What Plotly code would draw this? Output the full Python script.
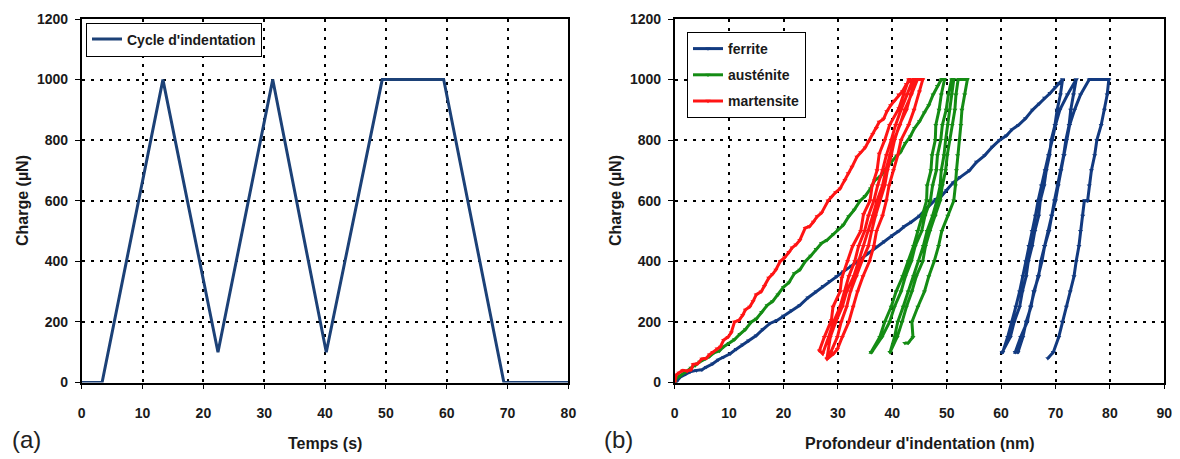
import plotly.graph_objects as go

# ---------------- (a) indentation cycle ----------------
temps_s = [0, 3.35, 13.35, 22.4, 31.4, 40.2, 49.4, 59.5, 69.4, 80]
charge_cycle = [0, 0, 1000, 100, 1000, 100, 1000, 1000, 0, 0]

# ---------------- (b) load-depth curves ----------------
# martensite: loading, unload1, reload2, unload2, reload3, hold, unload3
mart_x = [0, 0.3, 0.8, 1.5, 2.3, 3.0, 3.4, 4.2, 5.0, 5.8, 6.4, 7.0, 7.8, 8.4, 9.0, 9.8, 10.4, 11.0, 11.8, 12.5,
          13.0, 13.8, 14.4, 15.0, 15.9, 16.5, 17.3, 18.0, 18.6, 19.4, 20.2, 21.0, 21.6, 22.3, 23.0, 24.0, 24.8,
          25.5, 26.2, 27.0, 28.2, 28.8, 29.6, 30.4, 31.3, 31.9, 32.6, 33.5, 34.2, 35.0, 35.6, 36.4, 37.1, 37.6,
          38.4, 39.0, 39.7, 40.4, 41.2, 41.9, 42.6, 43.4,
          43.0, 42.1, 41.2, 39.5, 38.6, 37.6, 37.2, 36.3, 35.9, 34.7, 34.2, 32.7, 31.8, 30.7, 30.4, 29.1, 28.8, 27.5, 26.6,
          27.2, 28.3, 29.2, 30.4, 31.2, 32.0, 33.1, 33.8, 34.9, 35.6, 36.6, 37.3, 38.2, 38.9, 39.8, 40.6, 41.6, 42.7, 43.8,
          44.2, 43.4, 42.6, 41.3, 40.4, 39.8, 39.1, 38.6, 37.7, 36.9, 36.2, 35.6, 34.4, 33.4, 32.3, 31.6, 30.6, 29.9, 28.7,
          28.0, 28.6, 29.6, 30.8, 31.6, 32.9, 33.8, 34.7, 35.6, 36.4, 37.2, 38.2, 38.8, 39.6, 40.3, 41.4, 42.3, 43.5, 44.6,
          45.6, 45.0, 44.0, 43.0, 41.6, 41.0, 40.2, 39.4, 38.9, 38.2, 37.1, 36.6, 35.8, 34.6, 33.6, 32.8, 32.0, 30.8,
          29.9, 29.2, 28.0]
mart_y = [0, 25, 32, 40, 38, 42, 60, 62, 78, 80, 92, 100, 112, 118, 140, 150, 165, 200, 205, 222,
          240, 250, 268, 290, 300, 318, 345, 358, 372, 400, 412, 430, 445, 455, 470, 510, 515,
          530, 548, 560, 600, 612, 628, 640, 668, 690, 712, 745, 760, 775, 795, 820, 840, 860,
          870, 895, 915, 930, 950, 962, 985, 1000,
          1000, 950, 905, 850, 800, 755, 700, 650, 600, 555, 500, 450, 400, 345, 300, 250, 205, 150, 105,
          95, 150, 200, 250, 300, 350, 400, 450, 500, 550, 600, 650, 700, 750, 800, 850, 900, 950, 1000,
          1000, 950, 900, 850, 800, 750, 700, 650, 600, 550, 500, 450, 400, 350, 300, 250, 200, 150, 100,
          80, 150, 200, 250, 300, 350, 400, 450, 500, 550, 600, 650, 700, 750, 800, 850, 900, 950, 1000,
          1000, 960, 900, 850, 800, 750, 700, 650, 600, 550, 500, 450, 400, 350, 300, 250, 200, 150,
          110, 95, 77]

aust_x = [0, 0.3, 1.0, 2.0, 3.0, 3.8, 4.6, 5.6, 6.4, 7.2, 8.2, 9.0, 10.0, 11.0, 12.0, 13.0, 14.1, 15.0, 16.0,
          17.0, 18.0, 19.0, 20.0, 21.0, 22.0, 23.0, 24.0, 25.0, 26.0, 27.0, 28.0, 29.2, 30.0, 31.0, 32.0, 33.0,
          34.1, 35.0, 36.0, 36.8, 37.8, 38.8, 39.8, 40.8, 41.5, 42.4, 43.3, 44.1, 45.0, 45.9, 46.7, 47.5, 48.3, 49.0,
          49.6, 49.0, 48.6, 48.0, 47.9, 47.3, 47.1, 46.4, 46.3, 45.5, 44.6, 43.9, 42.9, 41.9, 40.7, 39.8, 38.6, 37.7, 36.1,
          36.2, 38.1, 39.5, 40.4, 41.6, 42.4, 43.5, 44.2, 45.4, 46.0, 47.0, 47.4, 48.1, 48.3, 48.9, 49.2, 49.9, 50.3, 50.9,
          51.3, 50.9, 50.5, 50.2, 49.8, 49.5, 49.0, 48.8, 48.2, 47.4, 46.4, 45.7, 44.8, 43.9, 42.9, 42.0, 41.0, 40.4, 39.6,
          39.6, 40.9, 41.8, 42.6, 43.6, 44.4, 45.6, 46.1, 46.9, 47.9, 48.8, 49.2, 49.8, 50.1, 50.6, 51.0, 51.5, 51.7, 52.1,
          53.8, 53.3, 52.8, 52.6, 52.3, 52.0, 51.8, 51.6, 51.3, 50.2, 49.1, 48.5, 47.7, 46.7, 45.9, 44.7, 43.6, 43.8,
          42.9, 42.3]
aust_y = [0, 13, 22, 35, 48, 56, 68, 78, 86, 98, 104, 118, 130, 142, 160, 175, 200, 210, 232,
          255, 268, 290, 315, 330, 360, 372, 400, 418, 440, 460, 470, 490, 505, 520, 548, 570,
          600, 615, 640, 668, 680, 705, 728, 748, 760, 790, 812, 840, 862, 891, 915, 950, 978, 1000,
          1000, 950, 900, 850, 800, 750, 700, 650, 600, 550, 500, 450, 400, 350, 300, 250, 200, 150, 100,
          100, 150, 200, 250, 300, 350, 400, 450, 500, 550, 600, 650, 700, 750, 800, 850, 900, 950, 1000,
          1000, 950, 900, 850, 800, 750, 700, 650, 600, 550, 500, 450, 400, 350, 300, 250, 200, 150, 100,
          100, 150, 200, 250, 300, 350, 400, 450, 500, 550, 600, 650, 700, 750, 800, 850, 900, 950, 1000,
          1000, 950, 900, 850, 800, 750, 700, 650, 600, 550, 500, 450, 400, 350, 300, 250, 200, 150,
          130, 130]

ferr_x = [0, 0.3, 1.0, 2.0, 2.8, 4.0, 5.0, 5.8, 7.0, 8.0, 9.0, 10.2, 11.3, 12.5, 13.6, 15.0, 16.2, 17.5, 18.8,
          20.0, 21.5, 23.0, 24.5, 26.0, 27.3, 28.5, 29.8, 31.0, 32.5, 34.0, 35.5, 37.0, 38.5, 40.0, 41.2, 42.2,
          43.5, 45.0, 46.5, 48.0, 49.0, 50.0, 51.2, 52.5, 54.2, 55.5, 57.0, 58.4, 59.7, 61.0, 62.0, 63.2, 64.5,
          65.8, 67.0, 68.0, 69.0, 70.0, 70.7, 71.3,
          71.3, 70.9, 70.3, 69.9, 69.2, 68.9, 68.3, 67.9, 67.2, 66.9, 66.2, 65.7, 65.0, 64.6, 63.9, 63.4, 62.4, 61.7, 60.2,
          60.3, 61.2, 62.0, 62.7, 63.4, 64.0, 64.5, 65.1, 65.7, 66.3, 66.8, 67.4, 68.1, 68.7, 69.4, 70.0, 70.8, 72.2, 73.8,
          73.8, 73.3, 72.8, 72.5, 71.9, 71.5, 70.9, 70.4, 69.8, 69.3, 68.7, 68.0, 67.3, 66.9, 66.0, 65.5, 64.6, 64.0, 63.1,
          62.6, 63.6, 64.8, 65.4, 66.1, 66.8, 67.5, 68.0, 68.8, 69.3, 70.0, 70.5, 71.0, 71.6, 72.0, 72.6, 73.5, 74.6, 76.2,
          79.8, 79.5, 79.0, 78.4, 77.6, 77.2, 76.6, 76.2, 75.9, 75.3, 75.0, 74.6, 74.3, 73.8, 73.4, 72.7, 72.0, 71.2,
          70.6, 69.6, 68.6]
ferr_y = [0, 2, 18, 28, 35, 40, 42, 51, 62, 75, 84, 95, 110, 125, 138, 155, 175, 195, 205,
          220, 238, 255, 280, 300, 318, 335, 350, 366, 385, 405, 428, 448, 465, 485, 500, 515,
          530, 550, 578, 605, 615, 635, 660, 678, 700, 728, 750, 778, 800, 815, 835, 850, 872,
          900, 920, 940, 955, 975, 988, 1000,
          1000, 950, 900, 850, 800, 750, 700, 650, 600, 550, 500, 450, 400, 350, 300, 250, 200, 150, 100,
          100, 150, 200, 250, 300, 350, 400, 450, 500, 550, 600, 650, 700, 750, 800, 850, 900, 950, 1000,
          1000, 950, 900, 850, 800, 750, 700, 650, 600, 550, 500, 450, 400, 350, 300, 250, 200, 150, 100,
          100, 150, 200, 250, 300, 350, 400, 450, 500, 550, 600, 650, 700, 750, 800, 850, 900, 950, 1000,
          1000, 950, 900, 850, 800, 750, 700, 650, 600, 600, 550, 500, 450, 400, 350, 300, 250, 200,
          150, 100, 80]

# the page body has an 8px margin; figure is sized/positioned to compensate
OFF = 8
W, H = 1180 - OFF, 459 - OFF
FONT = "Liberation Sans, Arial, sans-serif"
BLUE_A = "#1c4177"
BLUE = "#123a80"
GREEN = "#148c14"
RED = "#ff1414"

def px_x(p):
    return (p - OFF) / W

def px_y(p):
    return 1 - (p - OFF) / H

fig = go.Figure()
fig.add_trace(go.Scatter(x=temps_s, y=charge_cycle, mode="lines", name="Cycle d'indentation",
                         line=dict(color=BLUE_A, width=3), xaxis="x", yaxis="y", legend="legend",
                         cliponaxis=False))
for nm, xs, ys, col, grp in [("ferrite", ferr_x, ferr_y, BLUE, "f"),
                             ("austénite", aust_x, aust_y, GREEN, "a"),
                             ("martensite", mart_x, mart_y, RED, "m")]:
    fig.add_trace(go.Scatter(x=xs, y=ys, mode="lines+markers", name=nm,
                             line=dict(color=col, width=3),
                             marker=dict(color=col, size=4.5, symbol="triangle-down"),
                             xaxis="x2", yaxis="y2", legend="legend2", legendgroup=grp))

tickfont = dict(family=FONT, size=14, color="#1a1a1a", weight="bold")
grid = dict(showgrid=True, gridcolor="#000000", gridwidth=2, griddash="3px,6px", zeroline=False,
            showline=True, linecolor="#000000", linewidth=1.6, mirror=True, ticks="outside",
            ticklen=5, tickcolor="#000000", tickfont=tickfont, automargin=False)

ydom = [px_y(382.5), px_y(19)]
fig.update_layout(
    width=W, height=H, margin=dict(l=0, r=0, t=0, b=0, autoexpand=False),
    paper_bgcolor="white", plot_bgcolor="white",
    xaxis=dict(domain=[px_x(81.7), px_x(568.4)], range=[0, 80], dtick=10, anchor="y",
               ticklabelstandoff=12, **grid),
    yaxis=dict(domain=ydom, range=[0, 1200], dtick=200, anchor="x", ticklabelstandoff=4, **grid),
    xaxis2=dict(domain=[px_x(674.7), px_x(1164.3)], range=[0, 90], dtick=10, anchor="y2",
                ticklabelstandoff=12, **grid),
    yaxis2=dict(domain=ydom, range=[0, 1200], dtick=200, anchor="x2", ticklabelstandoff=4, **grid),
    legend=dict(x=px_x(86), y=px_y(22.5), xanchor="left", yanchor="top", bgcolor="white",
                bordercolor="#000000", borderwidth=1, font=dict(family=FONT, size=14, color="#1a1a1a", weight="bold")),
    legend2=dict(x=px_x(687), y=px_y(32), xanchor="left", yanchor="top", bgcolor="white",
                 bordercolor="#000000", borderwidth=1, tracegroupgap=5,
                 font=dict(family=FONT, size=14, color="#1a1a1a", weight="bold")),
    showlegend=True,
)

title_font = dict(family=FONT, size=16, color="#1a1a1a", weight="bold")
ann = [
    dict(text="Temps (s)", x=px_x(325), y=px_y(443), font=title_font),
    dict(text="Profondeur d'indentation (nm)", x=px_x(919.5), y=px_y(443), font=title_font),
    dict(text="Charge (µN)", x=px_x(22), y=px_y(201), font=title_font, textangle=-90),
    dict(text="Charge (µN)", x=px_x(615), y=px_y(201), font=title_font, textangle=-90),
    dict(text="(a)", x=px_x(26), y=px_y(439), font=dict(family=FONT, size=24, color="#222222")),
    dict(text="(b)", x=px_x(618), y=px_y(439), font=dict(family=FONT, size=24, color="#222222")),
]
for a in ann:
    fig.add_annotation(xref="paper", yref="paper", showarrow=False, xanchor="center", yanchor="middle", **a)

fig.write_html("out.html")
